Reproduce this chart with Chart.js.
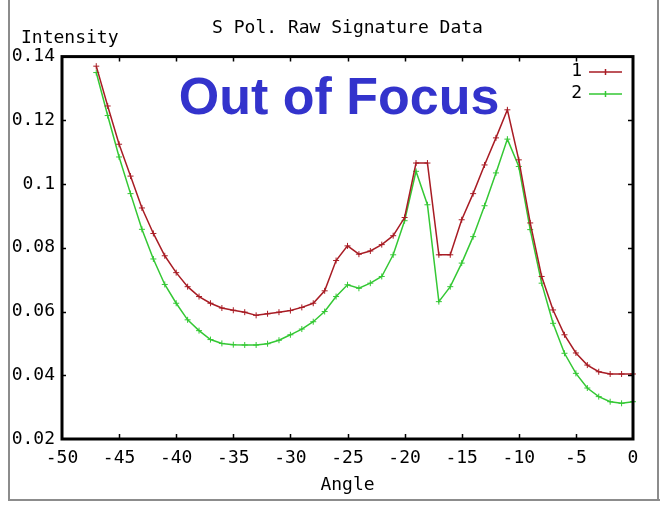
<!DOCTYPE html>
<html><head><meta charset="utf-8">
<script src="https://cdn.jsdelivr.net/npm/chart.js@4"></script>
<style>
html,body{margin:0;padding:0;background:#fff;}
#wrap{position:relative;width:660px;height:506px;overflow:hidden;background:#fff;}
#c{position:absolute;left:0;top:0;}
.fl{position:absolute;background:#8c8c8c;}
</style></head><body>
<div id="wrap">
<canvas id="c" width="660" height="506"></canvas>
<div class="fl" style="left:8px;top:0;width:2px;height:501px"></div>
<div class="fl" style="left:8px;top:499px;width:652px;height:2px"></div>
<div class="fl" style="left:657px;top:0;width:2px;height:500px"></div>
</div>
<script>
const titleText = 'S Pol. Raw Signature Data';
const xTitle = 'Angle';
const yTitle = 'Intensity';
const noteText = 'Out of Focus';
const seriesNames = ['1', '2'];
const xTicks = [-50, -45, -40, -35, -30, -25, -20, -15, -10, -5, 0];
const yTicks = [0.02, 0.04, 0.06, 0.08, 0.1, 0.12, 0.14];
const angles = [-47, -46, -45, -44, -43, -42, -41, -40, -39, -38, -37, -36, -35, -34, -33, -32,
  -31, -30, -29, -28, -27, -26, -25, -24, -23, -22, -21, -20, -19, -18, -17, -16,
  -15, -14, -13, -12, -11, -10, -9, -8, -7, -6, -5, -4, -3, -2, -1, 0];
const series1 = [0.1370, 0.1245, 0.1125, 0.1025, 0.0925, 0.0845, 0.0775, 0.0722, 0.0678, 0.0647, 0.0626, 0.0611, 0.0604, 0.0598, 0.0588, 0.0593,
  0.0598, 0.0603, 0.0613, 0.0626, 0.0665, 0.0760, 0.0806, 0.0780, 0.0790, 0.0810, 0.0838, 0.0895, 0.1066, 0.1066, 0.0778, 0.0778,
  0.0888, 0.0970, 0.1060, 0.1145, 0.1233, 0.1076, 0.0878, 0.0710, 0.0605, 0.0527, 0.0470, 0.0432, 0.0411, 0.0404, 0.0404, 0.0404];
const series2 = [0.1350, 0.1215, 0.1085, 0.0970, 0.0858, 0.0765, 0.0685, 0.0626, 0.0574, 0.0540, 0.0512, 0.0500, 0.0496, 0.0495, 0.0495, 0.0499,
  0.0510, 0.0527, 0.0545, 0.0568, 0.0600, 0.0647, 0.0684, 0.0673, 0.0689, 0.0710, 0.0778, 0.0885, 0.1040, 0.0935, 0.0631, 0.0678,
  0.0752, 0.0835, 0.0932, 0.1035, 0.1141, 0.1055, 0.0857, 0.0689, 0.0563, 0.0469, 0.0406, 0.0360, 0.0333, 0.0317, 0.0312, 0.0317];

const colors = ['rgb(168,28,36)', 'rgb(52,200,52)'];
const MONO = '"DejaVu Sans Mono", monospace';

function pts(ys){ return angles.map((a, i) => ({x: a, y: ys[i]})); }

const framePlugin = {
  id: 'frame',
  afterDatasetsDraw(chart) {
    const {ctx, chartArea: a, scales: {x, y}} = chart;
    ctx.save();
    ctx.strokeStyle = '#000';
    ctx.lineWidth = 1.5;
    ctx.beginPath();
    xTicks.slice(1, -1).forEach(v => {
      const px = Math.round(x.getPixelForValue(v)) + 0.5;
      ctx.moveTo(px, a.top); ctx.lineTo(px, a.top + 5);
      ctx.moveTo(px, a.bottom); ctx.lineTo(px, a.bottom - 5);
    });
    yTicks.slice(1, -1).forEach(v => {
      const py = Math.round(y.getPixelForValue(v)) + 0.5;
      ctx.moveTo(a.left, py); ctx.lineTo(a.left + 4, py);
      ctx.moveTo(a.right, py); ctx.lineTo(a.right - 5, py);
    });
    ctx.stroke();
    ctx.lineWidth = 3;
    ctx.strokeRect(a.left, a.top, a.right - a.left, a.bottom - a.top);

    // legend (gnuplot style)
    ctx.font = '18px ' + MONO;
    ctx.textAlign = 'right';
    ctx.textBaseline = 'middle';
    const ly = [72, 94];
    chart.data.datasets.forEach((ds, i) => {
      ctx.fillStyle = '#000';
      ctx.fillText(ds.label, 582, ly[i] - 1);
      ctx.strokeStyle = ds.borderColor;
      ctx.lineWidth = 1.5;
      ctx.beginPath();
      ctx.moveTo(589, ly[i]); ctx.lineTo(622, ly[i]);
      ctx.moveTo(605.5, ly[i] - 3); ctx.lineTo(605.5, ly[i] + 3);
      ctx.stroke();
    });

    // y label
    ctx.fillStyle = '#000';
    ctx.textAlign = 'left';
    ctx.textBaseline = 'alphabetic';
    ctx.fillText(yTitle, 21, 43);

    // annotation
    ctx.fillStyle = 'rgb(51,51,204)';
    ctx.font = 'bold 52px "Liberation Sans", Arial, sans-serif';
    ctx.textAlign = 'center';
    ctx.fillText(noteText, 339, 114);
    ctx.restore();
  }
};

new Chart(document.getElementById('c'), {
  type: 'line',
  data: {
    datasets: [
      {label: seriesNames[0], data: pts(series1), borderColor: colors[0], backgroundColor: colors[0],
       borderWidth: 1.5, pointStyle: 'cross', pointRadius: 3, pointBorderWidth: 1, tension: 0, clip: false},
      {label: seriesNames[1], data: pts(series2), borderColor: colors[1], backgroundColor: colors[1],
       borderWidth: 1.5, pointStyle: 'cross', pointRadius: 3, pointBorderWidth: 1, tension: 0, clip: false}
    ]
  },
  options: {
    responsive: false,
    animation: false,
    layout: {padding: {left: 0, right: 27, top: 0, bottom: 0}},
    plugins: {
      legend: {display: false},
      tooltip: {enabled: false},
      title: {display: true, text: titleText, color: '#000', fullSize: false,
        font: {family: MONO, size: 18, weight: 'normal', lineHeight: 1.2},
        padding: {top: 18, bottom: 17}}
    },
    scales: {
      x: {
        type: 'linear', min: xTicks[0], max: xTicks[xTicks.length - 1],
        afterFit(s) { s.height = 67; },
        afterBuildTicks(s) { s.ticks = xTicks.map(v => ({value: v})); },
        grid: {display: false, drawTicks: false},
        border: {display: false},
        ticks: {color: '#000', padding: 9, maxRotation: 0, autoSkip: false,
          font: {family: MONO, size: 18}, callback: v => String(v)},
        title: {display: true, text: xTitle, color: '#000',
          font: {family: MONO, size: 18, lineHeight: 1.2}, padding: {top: 0, bottom: 10}}
      },
      y: {
        type: 'linear', min: yTicks[0], max: yTicks[yTicks.length - 1],
        afterFit(s) { s.width = 62; },
        afterBuildTicks(s) { s.ticks = yTicks.map(v => ({value: v})); },
        grid: {display: false, drawTicks: false},
        border: {display: false},
        ticks: {color: '#000', padding: 7, autoSkip: false,
          font: {family: MONO, size: 18}, callback: v => String(+(+v).toFixed(2))}
      }
    }
  },
  plugins: [framePlugin]
});
</script>
</body></html>
